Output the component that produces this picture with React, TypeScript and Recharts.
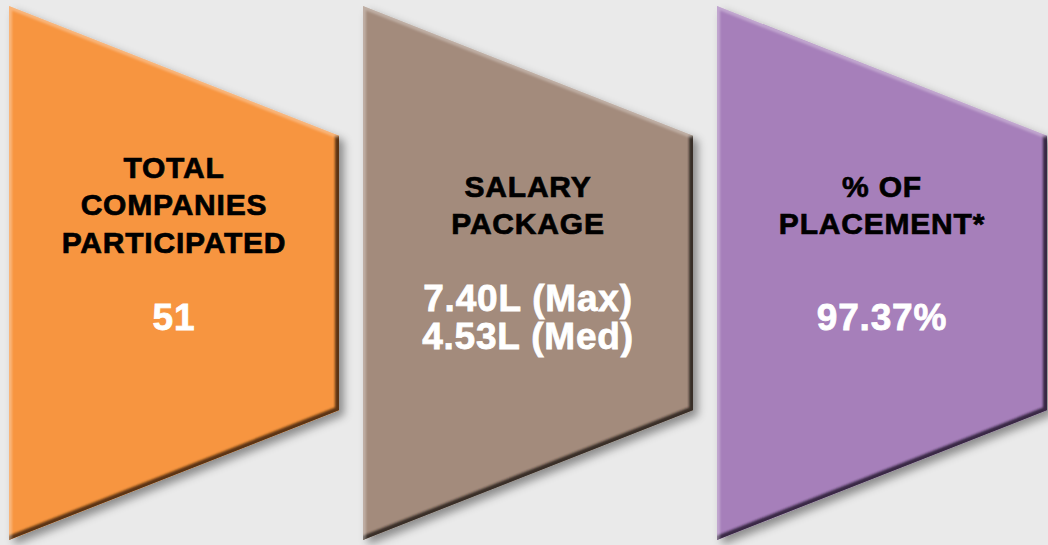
import { BarChart, Bar, XAxis, YAxis } from "recharts";

// three summary cards, left to right
const cards = ["companies", "salary", "placement"];
const titleLines = [
  ["TOTAL", "COMPANIES", "PARTICIPATED"],
  ["SALARY", "PACKAGE"],
  ["% OF", "PLACEMENT*"],
];
const valueLines = [["51"], ["7.40L (Max)", "4.53L (Med)"], ["97.37%"]];
const cardSize = [1, 1, 1];

const fills = ["#F79540", "#A38B7C", "#A67FBA"];
const edges = ["#4a2a0a", "#2f2520", "#2e2038"];

const data = cards.map((name, i) => ({
  name,
  size: cardSize[i],
  title: titleLines[i],
  value: valueLines[i],
}));

const FONT = "'Liberation Sans', Arial, sans-serif";

const CardShape = (props: any) => {
  const { x, y, width: w, height: h, payload, index } = props;
  const topRight = y + h * 0.243;
  const bottomRight = y + h * 0.757;
  const pts = `${x},${y} ${x + w},${topRight} ${x + w},${bottomRight} ${x},${y + h}`;
  const cx = x + w / 2;

  const titleMid = y + h * 0.372;
  const titleStep = 37.5;
  const titleTop = titleMid - ((payload.title.length - 1) * titleStep) / 2;
  const valueMid = y + h * 0.582;
  const valueStep = 38;
  const valueTop = valueMid - ((payload.value.length - 1) * valueStep) / 2;

  return (
    <g>
      <defs>
        <filter id={`shadow-${index}`} x="-10%" y="-10%" width="130%" height="130%">
          <feDropShadow dx="5" dy="5" stdDeviation="4" floodColor="#000" floodOpacity="0.4" />
        </filter>
        <filter id={`soft-${index}`}>
          <feGaussianBlur stdDeviation="0.9" />
        </filter>
        <clipPath id={`clip-${index}`}>
          <polygon points={pts} />
        </clipPath>
      </defs>
      <polygon points={pts} fill={fills[index]} filter={`url(#shadow-${index})`} />
      <g clipPath={`url(#clip-${index})`}>
        <polyline
          points={`${x + w},${topRight} ${x + w},${bottomRight} ${x},${y + h}`}
          fill="none"
          stroke={edges[index]}
          strokeWidth={8}
          strokeOpacity={0.9}
          filter={`url(#soft-${index})`}
        />
        <polyline
          points={`${x},${y + h} ${x},${y} ${x + w},${topRight}`}
          fill="none"
          stroke="#fff"
          strokeWidth={6}
          strokeOpacity={0.3}
          filter={`url(#soft-${index})`}
        />
      </g>
      {payload.title.map((t: string, i: number) => (
        <text
          key={`t${i}`}
          x={cx}
          y={titleTop + i * titleStep + 10.8}
          textAnchor="middle"
          fontFamily={FONT}
          fontWeight="bold"
          fontSize={30}
          letterSpacing={0.8}
          fill="#000"
          stroke="#000"
          strokeWidth={0.7}
        >
          {t}
        </text>
      ))}
      {payload.value.map((t: string, i: number) => (
        <text
          key={`v${i}`}
          x={cx}
          y={valueTop + i * valueStep + 13.5}
          textAnchor="middle"
          fontFamily={FONT}
          fontWeight="bold"
          fontSize={37}
          letterSpacing={0.8}
          fill="#fff"
          stroke="#fff"
          strokeWidth={0.8}
        >
          {t}
        </text>
      ))}
    </g>
  );
};

export default function App() {
  return (
    <div style={{ width: 1048, height: 545, overflow: "hidden", background: "#EAEAEA" }}>
      <style>{`body { margin: 0; background: #EAEAEA; }`}</style>
      <div style={{ position: "relative", left: -3 }}>
        <BarChart
          width={1062}
          height={545}
          data={data}
          margin={{ top: 6, right: 0, bottom: 5, left: 0 }}
          barSize={330}
        >
          <XAxis dataKey="name" hide />
          <YAxis domain={[0, 1]} hide />
          <Bar dataKey="size" shape={CardShape} isAnimationActive={false} />
        </BarChart>
      </div>
    </div>
  );
}
